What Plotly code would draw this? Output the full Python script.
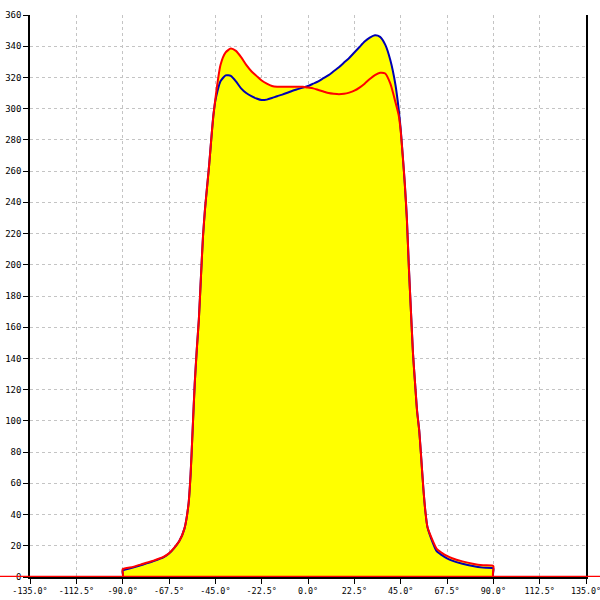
import plotly.graph_objects as go

# Angles (degrees) and intensities for the two series
angles = [-135, -90, -90, -85, -80, -75, -70, -67.5, -65, -62.5, -60, -58, -57, -56, -55, -54, -53, -52,
          -51, -50, -49, -48, -47, -46, -45, -44, -42.5, -40, -37.5, -35, -32.5, -30, -27.5, -25, -22.5,
          -20, -17.5, -15, -12.5, -10, -7.5, -5, -2.5, 0, 2.5, 5, 7.5, 10, 12.5, 15, 17.5, 20, 22.5, 25,
          27.5, 30, 32.5, 35, 37.5, 40, 42.5, 44, 45, 46, 47, 48, 49, 50, 51, 52, 53, 54, 55, 56, 57, 58,
          60, 62.5, 65, 67.5, 70, 75, 80, 85, 90, 90, 135]

blue = [0, 0, 4, 6, 8, 10.2, 12.8, 15, 18.5, 23, 31, 47, 66, 95, 124, 146, 165, 192,
        218, 236, 250, 264, 280, 295, 305, 311, 317.5, 321.3, 321, 317.5, 313, 310, 308, 306.5, 305.5,
        305.8, 306.8, 308, 309, 310.2, 311.5, 312.5, 313.5, 314.5, 316, 317.5, 319.5, 321.5, 324, 326.5, 329.5, 332.5, 336, 339.5,
        343, 345.5, 347, 346, 341, 331, 315, 300, 287, 270, 252, 230, 198, 170, 143, 124, 106, 94, 76, 57, 42, 32,
        24, 16.5, 14, 12, 10.5, 8.5, 7, 6, 5.5, 0, 0]

red = [0, 0, 5, 6.5, 8.5, 10.5, 13, 15.2, 18.7, 23, 31, 47, 66, 95, 124, 146, 165, 192,
       218, 236, 250, 264, 280, 295, 306, 316, 328, 336, 338.5, 337, 333, 328, 324, 321, 318,
       316, 314.5, 314, 314, 314, 314, 314, 314, 313.5, 313, 312, 311, 310, 309.5, 309.2, 309.5, 310.3, 311.5, 313.5,
       316, 319, 321.5, 323, 322.5, 316, 304, 296, 286, 270, 252, 230, 198, 170, 143, 124, 106, 94, 76, 57, 42, 32,
       25, 18, 15.5, 13.5, 12, 10, 8.5, 7.5, 7, 0, 0]

x_ticks = [-135, -112.5, -90, -67.5, -45, -22.5, 0, 22.5, 45, 67.5, 90, 112.5, 135]
x_labels = [f"{v:.1f}°" for v in x_ticks]
y_ticks = list(range(0, 361, 20))

fig = go.Figure()
# yellow fills first, lines on top
for ys in (blue, red):
    fig.add_trace(go.Scatter(x=angles, y=ys, mode="lines", line=dict(width=0, color="rgba(0,0,0,0)",
                                                                        shape="spline", smoothing=0.6),
                             fill="tozeroy", fillcolor="#ffff00", hoverinfo="skip", showlegend=False))
fig.add_trace(go.Scatter(x=angles, y=blue, mode="lines",
                         line=dict(color="#0000b4", width=2, shape="spline", smoothing=0.6), showlegend=False))
fig.add_trace(go.Scatter(x=angles, y=red, mode="lines",
                         line=dict(color="#ff0000", width=2, shape="spline", smoothing=0.6), showlegend=False))

# red baseline continues past the plot edges
fig.add_shape(type="line", xref="paper", yref="y", x0=-0.06, x1=1.03, y0=0, y1=0,
              line=dict(color="#ff0000", width=2.5), layer="above")

yfont = dict(family="DejaVu Sans Mono", size=9, color="black")
xfont = dict(family="DejaVu Sans Mono", size=8.4, color="black")
grid = dict(showgrid=True, gridcolor="#c4c4c4", griddash="3px,3px", gridwidth=1)

fig.update_layout(
    width=600, height=600,
    margin=dict(l=30, r=14, t=15, b=23, autoexpand=False),
    paper_bgcolor="white", plot_bgcolor="white",
    font=yfont,
    xaxis=dict(range=[-135, 135], tickvals=x_ticks, ticktext=x_labels, ticks="outside", ticklen=5,
               tickcolor="black", showline=True, linecolor="black", linewidth=1.5, zeroline=False,
               automargin=False, ticklabeloverflow="allow", tickfont=xfont, **grid),
    yaxis=dict(range=[0, 360], tickvals=y_ticks, ticks="outside", ticklen=5, tickcolor="black",
               showline=True, linecolor="black", linewidth=1.5, mirror=True, zeroline=False,
               automargin=False, ticklabeloverflow="allow", tickfont=yfont, **grid),
)

fig.write_html("out.html", config={"displayModeBar": False},
               post_script="document.body.style.margin='0';document.body.style.overflow='hidden';")
